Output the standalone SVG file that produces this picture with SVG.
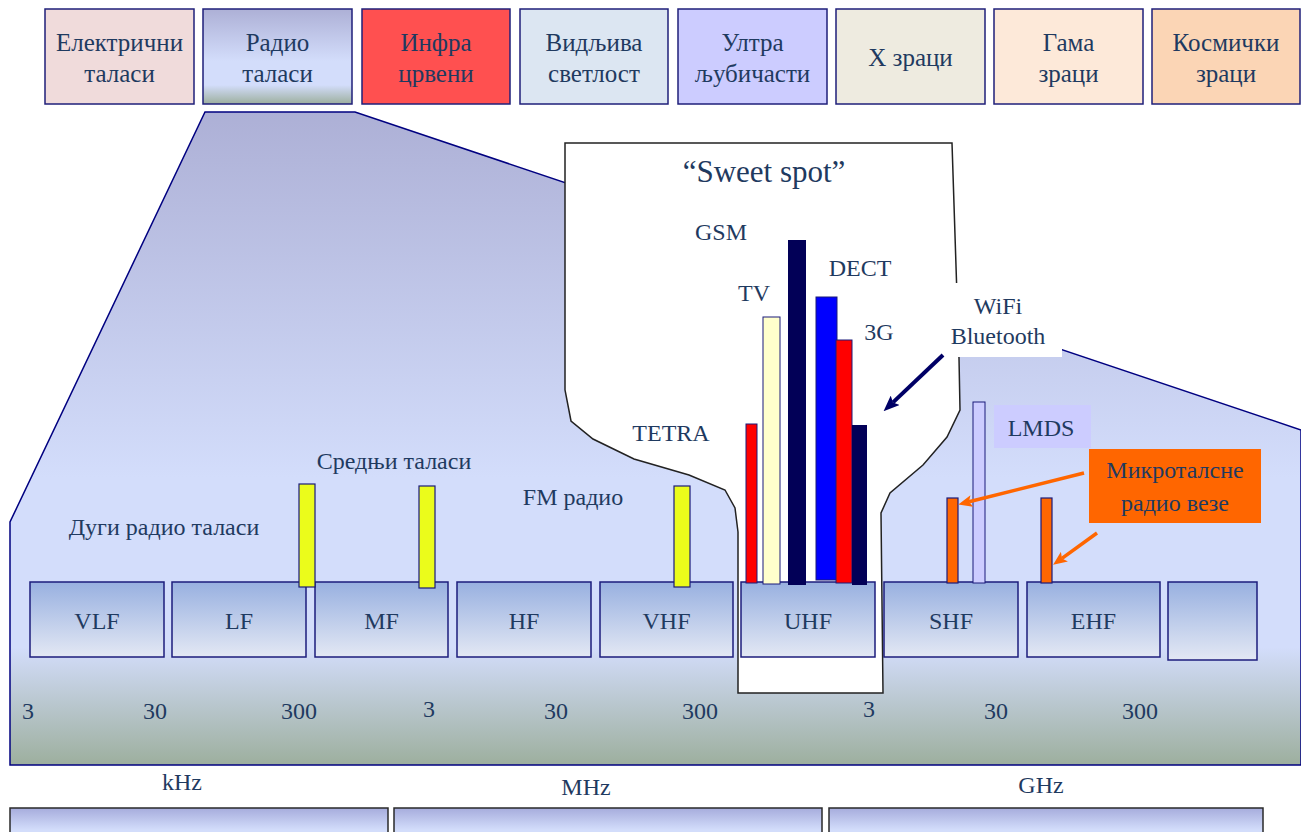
<svg xmlns="http://www.w3.org/2000/svg" width="1301" height="832" viewBox="0 0 1301 832">
<defs>
<style>
text{font-family:"Liberation Serif","Times New Roman",serif;fill:#1F3A60;font-size:24px;text-anchor:middle}
.tt{font-size:25px}
.top{stroke:#1F1F7A;stroke-width:1.5}
.band{fill:url(#gBand);stroke:#1C1C7C;stroke-width:1.5}
.bot{fill:url(#gBot);stroke:#2A2A2A;stroke-width:1.5}
.ybar{fill:#EBFC1B;stroke:#1A1A7A;stroke-width:1.2}
.bar{stroke:#1A1A7A;stroke-width:1}
.obar{fill:#FF6600;stroke:#1A1A7A;stroke-width:1.2}
</style>
<linearGradient id="gBig" gradientUnits="userSpaceOnUse" x1="0" y1="112" x2="0" y2="765">
<stop offset="0" stop-color="#ADB0D6"/>
<stop offset="0.56" stop-color="#D3DDFB"/>
<stop offset="0.82" stop-color="#D3DDFB"/>
<stop offset="1" stop-color="#9DAF9E"/>
</linearGradient>
<linearGradient id="gRadio" x1="0" y1="0" x2="0" y2="1">
<stop offset="0" stop-color="#ADB0D6"/>
<stop offset="0.55" stop-color="#D3DDFB"/>
<stop offset="0.8" stop-color="#D3DDFB"/>
<stop offset="1" stop-color="#9DAF9E"/>
</linearGradient>
<linearGradient id="gBand" x1="0" y1="0" x2="0" y2="1">
<stop offset="0" stop-color="#98B0E0"/>
<stop offset="1" stop-color="#E3E8F4"/>
</linearGradient>
<linearGradient id="gBot" gradientUnits="userSpaceOnUse" x1="0" y1="808" x2="0" y2="830">
<stop offset="0" stop-color="#A6ACDC"/>
<stop offset="1" stop-color="#D3DDFB"/>
</linearGradient>
<marker id="mNavy" markerUnits="userSpaceOnUse" markerWidth="16" markerHeight="13" viewBox="0 0 16 13" refX="3" refY="6.5" orient="auto">
<path d="M0,0 L16,6.5 L0,13 L3,6.5 z" fill="#000066"/>
</marker>
<marker id="mOrange" markerUnits="userSpaceOnUse" markerWidth="14" markerHeight="12" viewBox="0 0 14 12" refX="3" refY="6" orient="auto">
<path d="M0,0 L14,6 L0,12 L3,6 z" fill="#FF6600"/>
</marker>
</defs>
<rect width="1301" height="832" fill="#FFFFFF"/>

<g id="spectrum-top">
<g id="n-elektricni"><rect class="top" x="45" y="9" width="149" height="95" fill="#F0DBDB"/><text class="tt" x="119.5" y="51">Електрични</text><text class="tt" x="119.5" y="82">таласи</text></g>
<g id="n-radio"><rect class="top" x="203" y="9" width="149" height="95" fill="url(#gRadio)"/><text class="tt" x="277.5" y="51">Радио</text><text class="tt" x="277.5" y="82">таласи</text></g>
<g id="n-infra"><rect class="top" x="362" y="9" width="148" height="95" fill="#FF5050"/><text class="tt" x="436" y="51">Инфра</text><text class="tt" x="436" y="82">црвени</text></g>
<g id="n-vidljiva"><rect class="top" x="520" y="9" width="148" height="95" fill="#DCE6F2"/><text class="tt" x="594" y="51">Видљива</text><text class="tt" x="594" y="82">светлост</text></g>
<g id="n-ultra"><rect class="top" x="678" y="9" width="149" height="95" fill="#CCCCFF"/><text class="tt" x="752.5" y="51">Ултра</text><text class="tt" x="752.5" y="82">љубичасти</text></g>
<g id="n-x"><rect class="top" x="836" y="9" width="149" height="95" fill="#EEEBE0"/><text class="tt" x="910.5" y="66">X зраци</text></g>
<g id="n-gama"><rect class="top" x="994" y="9" width="149" height="95" fill="#FDE9D9"/><text class="tt" x="1068.5" y="51">Гама</text><text class="tt" x="1068.5" y="82">зраци</text></g>
<g id="n-kosmicki"><rect class="top" x="1152" y="9" width="148" height="95" fill="#FBD5B5"/><text class="tt" x="1226" y="51">Космички</text><text class="tt" x="1226" y="82">зраци</text></g>
</g>

<g id="radio-panel">
<path d="M205,112 L355,112 L1301,430 L1301,765 L10,765 L10,522 Z" fill="url(#gBig)" stroke="#000080" stroke-width="1.5"/>
</g>

<g id="sweet-spot">
<path d="M565,143 L952,143 L959,358 L960,410 L947,437 L923,465 L890,493 L881,513 L883,693 L738,693 L738,532 L735,508 L725,490 L689,475 L634,459 L593,439 L571,421 L565,390 Z" fill="#FFFFFF" stroke="#222222" stroke-width="1.5"/>
<text x="764" y="182" style="font-size:31px">“Sweet spot”</text>
</g>

<g id="bands">
<g id="b-vlf"><rect class="band" x="30" y="582" width="134" height="75"/><text x="97" y="629">VLF</text></g>
<g id="b-lf"><rect class="band" x="172" y="582" width="134" height="75"/><text x="239" y="629">LF</text></g>
<g id="b-mf"><rect class="band" x="315" y="582" width="133" height="75"/><text x="381.5" y="629">MF</text></g>
<g id="b-hf"><rect class="band" x="457" y="582" width="134" height="75"/><text x="524" y="629">HF</text></g>
<g id="b-vhf"><rect class="band" x="600" y="582" width="133" height="75"/><text x="666.5" y="629">VHF</text></g>
<g id="b-uhf"><rect class="band" x="741" y="582" width="134" height="75"/><text x="808" y="629">UHF</text></g>
<g id="b-shf"><rect class="band" x="884" y="582" width="134" height="75"/><text x="951" y="629">SHF</text></g>
<g id="b-ehf"><rect class="band" x="1027" y="582" width="133" height="75"/><text x="1093.5" y="629">EHF</text></g>
<g id="b-empty"><rect class="band" x="1168" y="582" width="89" height="78"/></g>
</g>

<g id="bars">
<g id="bar-lw"><rect class="ybar" x="299" y="484" width="16" height="103"/></g>
<g id="bar-mw"><rect class="ybar" x="419" y="486" width="16" height="102"/></g>
<g id="bar-fm"><rect class="ybar" x="674" y="486" width="16" height="101"/></g>
<g id="bar-tetra"><rect class="bar" x="746" y="424" width="11" height="159" fill="#FF0000"/></g>
<g id="bar-tv"><rect class="bar" x="763" y="317" width="17" height="267" fill="#FFFFCC"/></g>
<g id="bar-gsm"><rect x="788" y="240" width="18" height="345" fill="#020057"/></g>
<g id="bar-dect"><rect class="bar" x="816" y="297" width="21" height="283" fill="#0000FF"/></g>
<g id="bar-3g"><rect class="bar" x="836" y="340" width="16" height="243" fill="#FF0000"/></g>
<g id="bar-uhf2"><rect x="852" y="425" width="15" height="160" fill="#020057"/></g>
<g id="bar-shf-mw"><rect class="obar" x="947" y="498" width="11" height="85"/></g>
<g id="bar-lmds"><rect class="bar" x="973" y="402" width="12" height="181" fill="#CCCCFF"/></g>
<g id="bar-ehf-mw"><rect class="obar" x="1041" y="498" width="11" height="85"/></g>
</g>

<g id="labels">
<text x="164" y="535">Дуги радио таласи</text>
<text x="394" y="469">Средњи таласи</text>
<text x="573" y="505">FM радио</text>
<text x="671" y="441">TETRA</text>
<text x="721" y="240">GSM</text>
<text x="754" y="301">TV</text>
<text x="860" y="276">DECT</text>
<text x="879" y="340">3G</text>
<g id="n-wifi"><rect x="945" y="283" width="117" height="74" fill="#FFFFFF"/><text x="998" y="314">WiFi</text><text x="998" y="344">Bluetooth</text></g>
<g id="n-lmds"><rect x="994" y="405" width="97" height="43" fill="#CCCCFF"/><text x="1041" y="436">LMDS</text></g>
<g id="n-micro"><rect x="1089" y="449" width="172" height="74" fill="#FF6600"/><text x="1175" y="478">Микроталсне</text><text x="1175" y="511">радио везе</text></g>
</g>

<g id="scale">
<text x="28" y="719">3</text>
<text x="155" y="719">30</text>
<text x="299" y="719">300</text>
<text x="429" y="717">3</text>
<text x="556" y="719">30</text>
<text x="700" y="719">300</text>
<text x="869" y="717">3</text>
<text x="996" y="719">30</text>
<text x="1140" y="719">300</text>
<text x="182" y="790">kHz</text>
<text x="586" y="795">MHz</text>
<text x="1041" y="793">GHz</text>
</g>

<g id="bottom-bars">
<rect class="bot" x="10" y="808" width="378" height="40"/>
<rect class="bot" x="394" y="808" width="428" height="40"/>
<rect class="bot" x="829" y="808" width="434" height="40"/>
</g>

<g id="connectors">
<line x1="943" y1="355" x2="893" y2="402.4" stroke="#000066" stroke-width="4" marker-end="url(#mNavy)"/>
<line x1="1084" y1="473" x2="969" y2="501.8" stroke="#FF6600" stroke-width="3.5" marker-end="url(#mOrange)"/>
<line x1="1097" y1="533" x2="1062" y2="558.4" stroke="#FF6600" stroke-width="3.5" marker-end="url(#mOrange)"/>
</g>
</svg>
